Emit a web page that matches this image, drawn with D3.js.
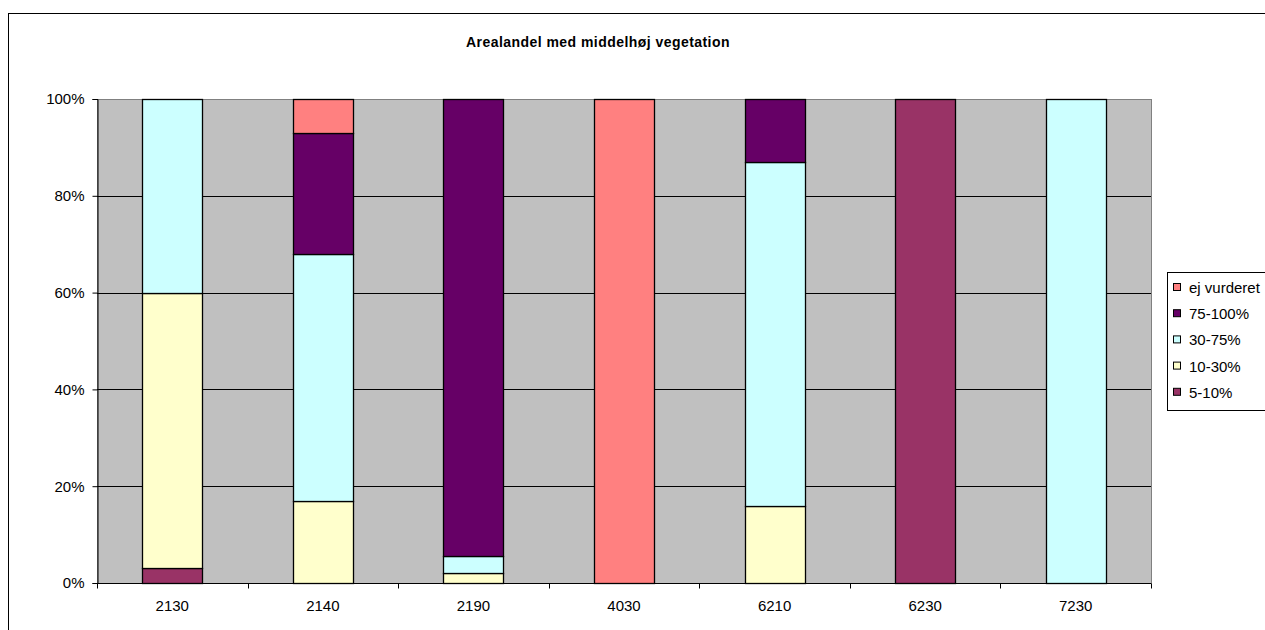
<!DOCTYPE html>
<html>
<head>
<meta charset="utf-8">
<script src="https://cdn.jsdelivr.net/npm/d3@7"></script>
<style>
  html, body { margin: 0; padding: 0; background: #fff; }
  svg { display: block; font-family: "Liberation Sans", Arial, sans-serif; }
</style>
</head>
<body>
<svg id="chart" width="1265" height="630"></svg>
<script>
// Habitat types along the x axis
const categories = ["2130", "2140", "2190", "4030", "6210", "6230", "7230"];

// Stack order from bottom to top
const seriesNames = ["5-10%", "10-30%", "30-75%", "75-100%", "ej vurderet"];
const seriesColors = ["#993366", "#FFFFCC", "#CCFFFF", "#660066", "#FF8080"];

// Share of area (%) per habitat type, one array per series
const s5_10     = [3,  0,  0,    0,   0,  100, 0];
const s10_30    = [57, 17, 2,    0,   16, 0,   0];
const s30_75    = [40, 51, 3.5,  0,   71, 0,   100];
const s75_100   = [0,  25, 94.5, 0,   13, 0,   0];
const sEj       = [0,  7,  0,    100, 0,  0,   0];
const seriesValues = [s5_10, s10_30, s30_75, s75_100, sEj];

const yTicks = [0, 20, 40, 60, 80, 100];
const chartTitle = "Arealandel med middelhøj vegetation";

const FONT = "Liberation Sans, Arial, sans-serif";
const svg = d3.select("#chart");

// outer chart frame (runs off the right and bottom edges)
svg.append("rect")
  .attr("x", 8.5).attr("y", 13.5)
  .attr("width", 1300).attr("height", 700)
  .attr("fill", "#fff").attr("stroke", "#000").attr("stroke-width", 1);

const plot = { left: 97, right: 1151, top: 99, bottom: 583 };

const xOuter = d3.scaleBand().domain(categories).range([plot.left, plot.right]);
const y = d3.scaleLinear().domain([0, 100]).range([plot.bottom, plot.top]);

// plot background
svg.append("rect")
  .attr("x", plot.left).attr("y", plot.top)
  .attr("width", plot.right - plot.left).attr("height", plot.bottom - plot.top)
  .attr("fill", "#C0C0C0").attr("stroke", "#808080").attr("stroke-width", 1)
  .attr("shape-rendering", "crispEdges");

// horizontal gridlines
svg.append("g")
  .selectAll("line")
  .data(yTicks.filter(t => t > 0 && t < 100))
  .join("line")
  .attr("x1", plot.left).attr("x2", plot.right)
  .attr("y1", d => Math.round(y(d)) + 0.5).attr("y2", d => Math.round(y(d)) + 0.5)
  .attr("stroke", "#000").attr("stroke-width", 1);

// stacked bars
const rows = categories.map((c, i) => {
  const r = { cat: c };
  seriesNames.forEach((s, k) => { r[s] = seriesValues[k][i]; });
  return r;
});
const stacked = d3.stack().keys(seriesNames)(rows);

const bw = 60;
stacked.forEach((layer, k) => {
  svg.append("g")
    .selectAll("rect")
    .data(layer.filter(d => d[1] - d[0] > 0))
    .join("rect")
    .attr("x", d => Math.round(xOuter(d.data.cat) + xOuter.bandwidth() / 2 - bw / 2) + 0.5)
    .attr("width", bw)
    .attr("y", d => Math.round(y(d[1])) + 0.5)
    .attr("height", d => Math.round(y(d[0])) - Math.round(y(d[1])))
    .attr("fill", seriesColors[k])
    .attr("stroke", "#000").attr("stroke-width", 1.3);
});

// y axis
const yAxis = d3.axisLeft(y)
  .tickValues(yTicks)
  .tickSize(5).tickPadding(8)
  .tickFormat(d => d + "%");
const gy = svg.append("g")
  .attr("transform", `translate(${plot.left + 0.5},0)`)
  .call(yAxis)
  .attr("font-size", 15).attr("font-family", FONT);
gy.select(".domain").attr("stroke", "#000");
gy.selectAll(".tick line").attr("stroke", "#000");
gy.selectAll(".tick text").attr("fill", "#000");

// x axis with tick marks between categories
const gx = svg.append("g")
  .attr("transform", `translate(0,${plot.bottom + 0.5})`);
gx.append("line")
  .attr("x1", plot.left).attr("x2", plot.right)
  .attr("stroke", "#000");
gx.selectAll("line.sep")
  .data(categories.concat(["end"]))
  .join("line").attr("class", "sep")
  .attr("x1", (d, i) => Math.round(plot.left + i * xOuter.step()) + 0.5)
  .attr("x2", (d, i) => Math.round(plot.left + i * xOuter.step()) + 0.5)
  .attr("y1", 0).attr("y2", 5)
  .attr("stroke", "#000");
gx.selectAll("text")
  .data(categories)
  .join("text")
  .attr("x", d => xOuter(d) + xOuter.bandwidth() / 2)
  .attr("y", 27)
  .attr("text-anchor", "middle")
  .attr("font-size", 15)
  .text(d => d);

// title
svg.append("text")
  .attr("x", 598).attr("y", 47)
  .attr("text-anchor", "middle")
  .attr("font-size", 14).attr("font-weight", "bold")
  .attr("letter-spacing", 0.45)
  .text(chartTitle);

// legend (top entry is the top of the stack)
const legend = svg.append("g");
legend.append("rect")
  .attr("x", 1167.5).attr("y", 272.5)
  .attr("width", 120).attr("height", 138)
  .attr("fill", "#fff").attr("stroke", "#000");
const legendOrder = seriesNames.map((s, k) => k).reverse();
legend.selectAll("g.item")
  .data(legendOrder)
  .join("g").attr("class", "item")
  .attr("transform", (k, i) => `translate(1173,${288 + i * 26.2})`)
  .each(function(k) {
    const g = d3.select(this);
    g.append("rect")
      .attr("x", 0.5).attr("y", -4.5).attr("width", 7).attr("height", 7)
      .attr("fill", seriesColors[k]).attr("stroke", "#000");
    g.append("text")
      .attr("x", 16).attr("y", 5)
      .attr("font-size", 15)
      .text(seriesNames[k]);
  });
</script>
</body>
</html>
